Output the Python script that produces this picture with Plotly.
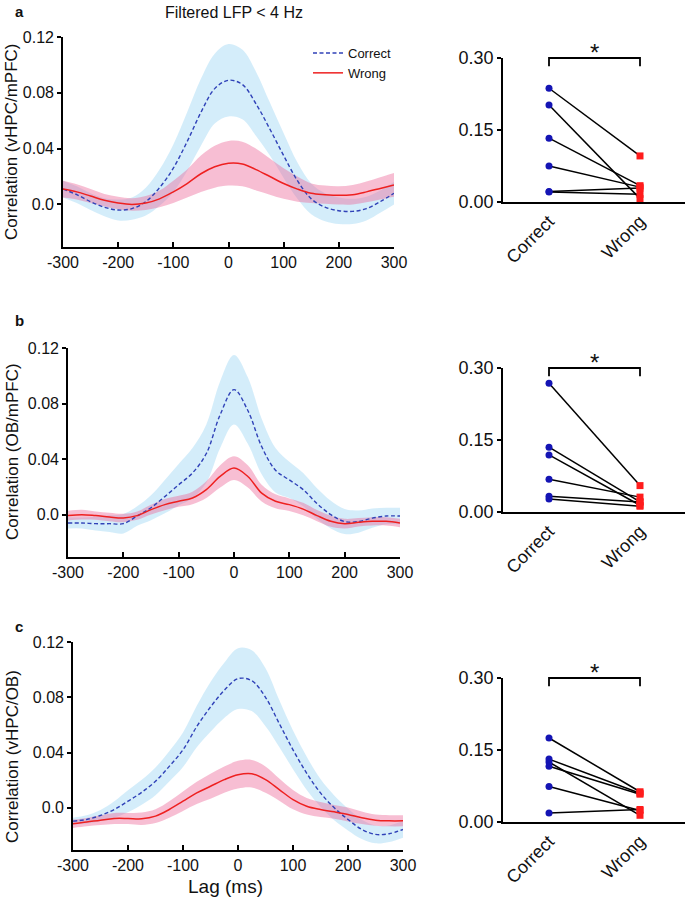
import plotly.graph_objects as go

# ---------------- data ----------------
lags = [-300, -275, -250, -225, -200, -175, -150, -125, -100, -75, -50, -25, 0,
        25, 50, 75, 100, 125, 150, 175, 200, 225, 250, 275, 300]

# panel a : vHPC/mPFC
a_correct_mean = [0.011, 0.007, 0.002, -0.002, -0.004, -0.003, 0.002, 0.012, 0.026, 0.045, 0.066, 0.083, 0.089,
                  0.086, 0.072, 0.054, 0.035, 0.017, 0.004, -0.002, -0.0045, -0.005, -0.003, 0.002, 0.008]
a_correct_sem = [0.006, 0.006, 0.006, 0.0065, 0.0075, 0.008, 0.010, 0.013, 0.017, 0.021, 0.024, 0.025, 0.026,
                 0.025, 0.023, 0.019, 0.016, 0.013, 0.011, 0.010, 0.0095, 0.009, 0.0085, 0.008, 0.008]
a_wrong_mean = [0.011, 0.009, 0.006, 0.003, 0.001, 0.0, 0.001, 0.004, 0.009, 0.015, 0.022, 0.027, 0.0295,
                0.029, 0.025, 0.020, 0.015, 0.011, 0.008, 0.007, 0.0065, 0.007, 0.009, 0.0115, 0.014]
a_wrong_sem = [0.006, 0.0055, 0.005, 0.0045, 0.0045, 0.0045, 0.005, 0.006, 0.008, 0.010, 0.013, 0.015, 0.016,
               0.016, 0.015, 0.013, 0.011, 0.009, 0.007, 0.0065, 0.0065, 0.007, 0.0075, 0.008, 0.0085]

# panel b : OB/mPFC
b_correct_mean = [-0.006, -0.006, -0.0065, -0.0065, -0.0065, -0.001, 0.005, 0.013, 0.0215, 0.030, 0.044, 0.072, 0.090,
                  0.075, 0.049, 0.032, 0.025, 0.018, 0.008, 0.0, -0.005, -0.005, -0.0025, -0.001, -0.001]
b_correct_sem = [0.004, 0.004, 0.005, 0.006, 0.007, 0.007, 0.009, 0.012, 0.015, 0.018, 0.021, 0.024, 0.025,
                 0.024, 0.020, 0.016, 0.013, 0.012, 0.011, 0.010, 0.009, 0.008, 0.007, 0.006, 0.006]
b_wrong_mean = [-0.0007, 0.0, -0.0007, -0.0017, -0.0024, -0.0007, 0.0036, 0.0072, 0.0096, 0.012, 0.018, 0.0275, 0.0335,
                0.0275, 0.0155, 0.0096, 0.0072, 0.004, -0.0007, -0.0048, -0.0065, -0.0055, -0.0048, -0.0048, -0.006]
b_wrong_sem = [0.0035, 0.0035, 0.003, 0.003, 0.003, 0.003, 0.0035, 0.004, 0.004, 0.0045, 0.006, 0.008, 0.0085,
               0.008, 0.006, 0.005, 0.0045, 0.0045, 0.004, 0.004, 0.0035, 0.003, 0.003, 0.003, 0.003]

# panel c : vHPC/OB
c_correct_mean = [-0.0096, -0.0084, -0.0055, -0.0012, 0.0048, 0.0113, 0.0192, 0.030, 0.042, 0.0588, 0.073, 0.085, 0.0935,
                  0.092, 0.080, 0.061, 0.042, 0.025, 0.0108, 0.0, -0.0084, -0.0156, -0.0192, -0.0187, -0.0156]
c_correct_sem = [0.0025, 0.003, 0.004, 0.006, 0.008, 0.009, 0.010, 0.011, 0.0125, 0.015, 0.018, 0.020, 0.022,
                 0.022, 0.021, 0.017, 0.014, 0.012, 0.010, 0.009, 0.008, 0.007, 0.0065, 0.006, 0.006]
c_wrong_mean = [-0.0115, -0.0103, -0.0089, -0.0077, -0.0077, -0.0079, -0.006, -0.0012, 0.0048, 0.0108, 0.0156, 0.0204, 0.024,
                0.0247, 0.0204, 0.0132, 0.006, 0.0012, -0.0012, -0.0029, -0.0048, -0.0072, -0.0089, -0.0094, -0.0094]
c_wrong_sem = [0.003, 0.003, 0.0035, 0.004, 0.004, 0.0045, 0.005, 0.006, 0.007, 0.008, 0.009, 0.0095, 0.010,
               0.010, 0.0095, 0.008, 0.007, 0.006, 0.0055, 0.005, 0.005, 0.0045, 0.004, 0.004, 0.004]

# paired per-animal values (right panels)
groups = ["Correct", "Wrong"]
a_pair_correct = [0.237, 0.202, 0.133, 0.075, 0.022, 0.021]
a_pair_wrong = [0.096, 0.007, 0.034, 0.031, 0.029, 0.016]
b_pair_correct = [0.268, 0.135, 0.119, 0.068, 0.033, 0.027]
b_pair_wrong = [0.055, 0.021, 0.014, 0.031, 0.021, 0.012]
c_pair_correct = [0.175, 0.131, 0.125, 0.116, 0.074, 0.019]
c_pair_wrong = [0.063, 0.060, 0.014, 0.058, 0.024, 0.026]

x_ticks = [-300, -200, -100, 0, 100, 200, 300]
y_ticks_left = [0.0, 0.04, 0.08, 0.12]
y_ticklabels_left = ["0.0", "0.04", "0.08", "0.12"]
y_ticks_right = [0.0, 0.15, 0.30]
y_ticklabels_right = ["0.00", "0.15", "0.30"]
y_titles = ["Correlation (vHPC/mPFC)", "Correlation (OB/mPFC)", "Correlation (vHPC/OB)"]
panel_letters = ["a", "b", "c"]

# ---------------- layout geometry (pixels) ----------------
W, H = 685, 898
FONT = "Liberation Sans, Arial, Helvetica, sans-serif"
BLUE_BAND = "rgba(135,206,240,0.36)"
PINK_BAND = "rgba(236,100,150,0.42)"
BLUE_LINE = "#3042b8"
RED_LINE = "#ee2020"


def xd(px):
    return px / W


def yd(py):
    return 1 - py / H


left_boxes = [(63, 394, 37, 247), (68, 400, 348, 557), (73, 403, 642, 850)]
right_boxes = [(503, 685, 58, 202), (503, 685, 368, 512), (503, 685, 678, 822)]
left_yrange = [-0.0305, 0.12]
right_xrange = [-0.5055, 1.4945]
right_yrange = [0.0, 0.30]
title_y_px = [142, 452, 757]
letter_y_px = [12, 320, 626]

panels = [
    (a_correct_mean, a_correct_sem, a_wrong_mean, a_wrong_sem, a_pair_correct, a_pair_wrong),
    (b_correct_mean, b_correct_sem, b_wrong_mean, b_wrong_sem, b_pair_correct, b_pair_wrong),
    (c_correct_mean, c_correct_sem, c_wrong_mean, c_wrong_sem, c_pair_correct, c_pair_wrong),
]

fig = go.Figure()
layout = dict(
    template="none",
    width=W, height=H, margin=dict(l=0, r=0, t=0, b=0, pad=0, autoexpand=False),
    paper_bgcolor="white", plot_bgcolor="white",
    font=dict(family=FONT, color="#111111", size=14),
    showlegend=True,
    legend=dict(x=xd(308), y=yd(38), xanchor="left", yanchor="top",
                bgcolor="rgba(0,0,0,0)", font=dict(size=13, family=FONT, color="#111"),
                itemwidth=30, tracegroupgap=0, traceorder="normal"),
)
annotations = []
shapes = []

for i, (cm, cs, wm, ws, pc, pw) in enumerate(panels):
    lid, rid = 2 * i + 1, 2 * i + 2
    lx = "x" if lid == 1 else f"x{lid}"
    ly = "y" if lid == 1 else f"y{lid}"
    rx, ry = f"x{rid}", f"y{rid}"

    # bands
    for mean, sem, col in ((cm, cs, BLUE_BAND), (wm, ws, PINK_BAND)):
        lo = [m - s for m, s in zip(mean, sem)]
        hi = [m + s for m, s in zip(mean, sem)]
        fig.add_trace(go.Scatter(x=lags, y=lo, xaxis=lx, yaxis=ly, mode="lines",
                                 line=dict(width=0, shape="spline"), showlegend=False, hoverinfo="skip"))
        fig.add_trace(go.Scatter(x=lags, y=hi, xaxis=lx, yaxis=ly, mode="lines",
                                 line=dict(width=0, shape="spline"), fill="tonexty", fillcolor=col,
                                 showlegend=False, hoverinfo="skip"))
    # means
    fig.add_trace(go.Scatter(x=lags, y=cm, xaxis=lx, yaxis=ly, mode="lines", name="Correct",
                             line=dict(color=BLUE_LINE, width=1.4, dash="4px,2.5px", shape="spline"),
                             showlegend=(i == 0)))
    fig.add_trace(go.Scatter(x=lags, y=wm, xaxis=lx, yaxis=ly, mode="lines", name="Wrong",
                             line=dict(color=RED_LINE, width=1.5, shape="spline"),
                             showlegend=(i == 0)))

    # paired lines
    for c, w in zip(pc, pw):
        fig.add_trace(go.Scatter(x=groups, y=[c, w], xaxis=rx, yaxis=ry, mode="lines",
                                 line=dict(color="black", width=1.5), showlegend=False, hoverinfo="skip"))
    fig.add_trace(go.Scatter(x=[groups[0]] * len(pc), y=pc, xaxis=rx, yaxis=ry, mode="markers",
                             marker=dict(symbol="circle", size=7, color="#1414b4"),
                             cliponaxis=False, showlegend=False))
    fig.add_trace(go.Scatter(x=[groups[1]] * len(pw), y=pw, xaxis=rx, yaxis=ry, mode="markers",
                             marker=dict(symbol="square", size=7, color="#ff1c1c"),
                             cliponaxis=False, showlegend=False))

    x0, x1, y0, y1 = left_boxes[i]
    layout["xaxis" if lid == 1 else f"xaxis{lid}"] = dict(
        domain=[xd(x0), xd(x1)], anchor=ly, range=[-300, 300], automargin=False,
        tickvals=x_ticks, ticktext=[str(t) for t in x_ticks],
        showline=True, linecolor="black", linewidth=1.6,
        ticks="inside", ticklen=5, tickwidth=1.5, tickcolor="black",
        showgrid=False, zeroline=False, tickfont=dict(size=16, family=FONT, color="#111"))
    layout["yaxis" if lid == 1 else f"yaxis{lid}"] = dict(
        domain=[yd(y1), yd(y0)], anchor=lx, range=left_yrange, automargin=False,
        tickvals=y_ticks_left, ticktext=y_ticklabels_left,
        showline=True, linecolor="black", linewidth=1.6,
        ticks="outside", ticklen=4, tickwidth=1.5, tickcolor="black",
        showgrid=False, zeroline=False, tickfont=dict(size=16, family=FONT, color="#111"))

    rx0, rx1, ry0, ry1 = right_boxes[i]
    layout[f"xaxis{rid}"] = dict(
        domain=[xd(rx0), xd(rx1)], anchor=ry, type="category", range=right_xrange, automargin=False,
        showline=True, linecolor="black", linewidth=1.6, ticks="",
        showgrid=False, zeroline=False, tickangle=-45,
        tickfont=dict(size=18, family=FONT, color="#111"))
    layout[f"yaxis{rid}"] = dict(
        domain=[yd(ry1), yd(ry0)], anchor=rx, range=right_yrange, automargin=False,
        tickvals=y_ticks_right, ticktext=y_ticklabels_right,
        showline=True, linecolor="black", linewidth=1.6,
        ticks="outside", ticklen=4, tickwidth=1.5, tickcolor="black",
        showgrid=False, zeroline=False, tickfont=dict(size=18, family=FONT, color="#111"))

    # significance bracket (domain refs so it is not clipped)
    def fx(v):
        return (v - right_xrange[0]) / (right_xrange[1] - right_xrange[0])

    def fy(v):
        return (v - right_yrange[0]) / (right_yrange[1] - right_yrange[0])

    top, drop = 0.30, 0.283
    shapes.append(dict(type="path", xref=f"x{rid} domain", yref=f"y{rid} domain",
                       path=f"M{fx(0)},{fy(drop)} L{fx(0)},{fy(top)} L{fx(1)},{fy(top)} L{fx(1)},{fy(drop)}",
                       line=dict(color="black", width=1.8)))
    annotations.append(dict(text="*", xref=f"x{rid} domain", yref=f"y{rid} domain",
                            x=(fx(0) + fx(1)) / 2, y=1.0, yshift=-10, xanchor="center", yanchor="bottom",
                            showarrow=False, font=dict(size=24, family=FONT, color="#111")))

    # y titles and panel letters
    annotations.append(dict(text=y_titles[i], xref="paper", yref="paper", x=xd(12), y=yd(title_y_px[i]),
                            xanchor="center", yanchor="middle",
                            textangle=-90, showarrow=False, font=dict(size=17, family=FONT, color="#111")))
    annotations.append(dict(text=f"<b>{panel_letters[i]}</b>", xref="paper", yref="paper",
                            x=xd(19), y=yd(letter_y_px[i]), xanchor="center", yanchor="middle",
                            showarrow=False, font=dict(size=15, family=FONT, color="#111")))

annotations.append(dict(text="Filtered LFP < 4 Hz", xref="paper", yref="paper", x=xd(234), y=yd(13),
                        xanchor="center", yanchor="middle",
                        showarrow=False, font=dict(size=16, family=FONT, color="#111")))
annotations.append(dict(text="Lag (ms)", xref="paper", yref="paper", x=xd(226), y=yd(886),
                        xanchor="center", yanchor="middle",
                        showarrow=False, font=dict(size=19, family=FONT, color="#111")))

layout["annotations"] = annotations
layout["shapes"] = shapes
fig.update_layout(**layout)
fig.write_html("out.html", config={"displayModeBar": False},
               post_script="document.body.style.margin='0px';document.body.style.padding='0px';")
